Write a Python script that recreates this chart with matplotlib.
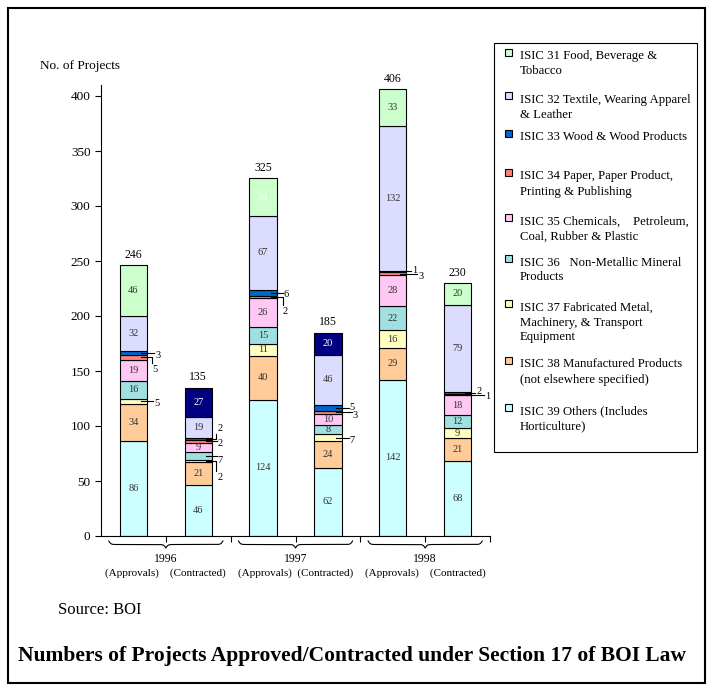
import numpy as np
import matplotlib.pyplot as plt
from matplotlib.patches import Rectangle
from matplotlib.lines import Line2D
from matplotlib.transforms import blended_transform_factory

plt.rcParams['font.family'] = ['Liberation Serif', 'DejaVu Serif']

W, H = 713, 690

# Bars: approvals / contracted for each year
years = ['1996', '1997', '1998']
bar_kind = ['(Approvals)', '(Contracted)']

# Number of projects per ISIC sector, one value per bar
isic39 = [86, 46, 124, 62, 142, 68]
isic38 = [34, 21, 40, 24, 29, 21]
isic37 = [5, 2, 11, 7, 16, 9]
isic36 = [16, 7, 15, 8, 22, 12]
isic35 = [19, 9, 26, 10, 28, 18]
isic34 = [5, 2, 2, 3, 3, 1]
isic33 = [3, 2, 6, 5, 1, 2]
isic32 = [32, 19, 67, 46, 132, 79]
isic31 = [46, 27, 34, 20, 33, 20]

sector_names = [
    'ISIC 31 Food, Beverage &\nTobacco',
    'ISIC 32 Textile, Wearing Apparel\n& Leather',
    'ISIC 33 Wood & Wood Products',
    'ISIC 34 Paper, Paper Product,\nPrinting & Publishing',
    'ISIC 35 Chemicals,    Petroleum,\nCoal, Rubber & Plastic',
    'ISIC 36   Non-Metallic Mineral\nProducts',
    'ISIC 37 Fabricated Metal,\nMachinery, & Transport\nEquipment',
    'ISIC 38 Manufactured Products\n(not elsewhere specified)',
    'ISIC 39 Others (Includes\nHorticulture)',
]

# stacking order, bottom -> top
stack = [isic39, isic38, isic37, isic36, isic35, isic34, isic33, isic32, isic31]
stack_colors = ['#CCFFFF', '#FFCC99', '#FFFFC0', '#A0E0E0', '#FFC8F4',
                '#FF7F7F', '#0066CC', '#DCDCFF', '#CCFFCC']
legend_colors = stack_colors[::-1]

# contracted bars of 1996/1997 have the top block filled navy
top_override = {1: '#000080', 3: '#000080'}
white_text = {(1, 8), (3, 8), (2, 8)}

# small blocks labelled outside the bar: (bar, level) -> (text dx, text dy, elbow dx)
outside = {
    (0, 6): (8, 3, None), (0, 5): (5, 12, 5), (0, 2): (7, 2, None),
    (1, 6): (6, -11, 4), (1, 5): (6, 2, None), (1, 3): (6, 4, None), (1, 2): (6, 16, 4),
    (2, 6): (7, 2, None), (2, 5): (6, 14, 6),
    (3, 6): (8, 0, None), (3, 5): (11, 3, None), (3, 2): (8, 3, None),
    (4, 6): (6, -1, None), (4, 5): (12, 3, None),
    (5, 6): (5, -2, None), (5, 5): (14, 2, None),
}

fig = plt.figure(figsize=(W / 100, H / 100), dpi=100)
ax = fig.add_axes([101 / W, 1 - 536 / H, 389 / W, 451 / H])

x = np.arange(6)
width = 0.42
bottom = np.zeros(6)
for level, (vals, col) in enumerate(zip(stack, stack_colors)):
    vals = np.array(vals)
    cols = [top_override.get(i, col) if level == 8 else col for i in range(6)]
    ax.bar(x, vals, width, bottom=bottom, color=cols, edgecolor='black', linewidth=0.8)
    bottom += vals

ax.set_xlim(-0.5, 5.5)
ax.set_ylim(0, 410)
ax.set_yticks(np.arange(0, 401, 50))
ax.set_xticks([])
ax.set_xticks(np.arange(0.5, 5.6, 1), minor=True)
ax.tick_params(axis='x', which='minor', direction='out', length=4, width=0.8)
ax.tick_params(axis='y', direction='out', length=4, width=0.8, labelsize=9.5)
for s in ['top', 'right']:
    ax.spines[s].set_visible(False)
for s in ['left', 'bottom']:
    ax.spines[s].set_linewidth(0.8)

fig.canvas.draw()


def to_px(xd, yd):
    dx, dy = ax.transData.transform((xd, yd))
    return dx, H - dy


def fig_line(xs, ys, lw=0.8):
    fig.add_artist(Line2D(np.array(xs) / W, 1 - np.array(ys) / H, color='black',
                          lw=lw, transform=fig.transFigure))


def fig_text(px, py, s, **kw):
    fig.text(px / W, 1 - py / H, s, **kw)


# segment labels
bottom = np.zeros(6)
for level, vals in enumerate(stack):
    for i in range(6):
        v = vals[i]
        yc = bottom[i] + v / 2
        if (i, level) in outside:
            tdx, tdy, ex = outside[(i, level)]
            edge, ypx = to_px(i + width / 2, yc)
            fig_text(edge + tdx, ypx + tdy, str(v), fontsize=7.5, ha='left', va='center')
            if ex is None:
                fig_line([edge - 6, edge + tdx - 1], [ypx, ypx])
            else:
                ty = ypx + tdy - np.sign(tdy) * 6
                fig_line([edge - 6, edge + ex, edge + ex], [ypx, ypx, ty])
        else:
            c = 'white' if (i, level) in white_text else '#333333'
            ax.text(i, yc, str(v), ha='center', va='center', fontsize=7.5, color=c)
    bottom += np.array(vals)

totals = bottom
for i, t in enumerate(totals):
    ax.annotate(f'{int(t)}', (i, t), xytext=(0, 3), textcoords='offset points',
                ha='center', va='bottom', fontsize=8.5)

# curly braces under each year
tr = blended_transform_factory(ax.transData, ax.transAxes)
beta = 60.0
for g in range(3):
    xc = 2 * g + 0.5
    xs = np.linspace(xc - 0.88, xc + 0.88, 301)
    xh = xs[:151]
    yh = 1 / (1 + np.exp(-beta * (xh - xh[0]))) + 1 / (1 + np.exp(-beta * (xh - xh[-1])))
    yb = np.concatenate((yh, yh[-2::-1]))
    ypix = 541 + (yb - 0.5) * 7
    ax.plot(xs, -(ypix - 536) / 451, color='black', lw=0.8, transform=tr, clip_on=False)

group_sub = ['(Approvals)    (Contracted)', '(Approvals)  (Contracted)', '(Approvals)    (Contracted)']
for g in range(3):
    gx, _ = to_px(2 * g + 0.5, 0)
    fig_text(gx, 559, years[g], ha='center', va='center', fontsize=8.5)
    fig_text(gx, 573, group_sub[g], ha='center', va='center', fontsize=8)

fig_text(40, 66, 'No. of Projects', ha='left', va='center', fontsize=9.5)

# legend box drawn by hand
fig.add_artist(Rectangle((494 / W, 1 - 452 / H), 203 / W, 409 / H, fill=False,
                         edgecolor='black', lw=0.8, transform=fig.transFigure))
marker_y = [52, 95, 133, 172, 217, 258, 303, 360, 407]
for name, col, my in zip(sector_names, legend_colors, marker_y):
    fig.add_artist(Rectangle(((508 - 3.5) / W, 1 - (my + 3.5) / H), 7 / W, 7 / H,
                             facecolor=col, edgecolor='black', lw=0.8,
                             transform=fig.transFigure))
    for k, line in enumerate(name.split('\n')):
        fig_text(520, my + 4.5 + 15 * k, line, ha='left', va='center', fontsize=9.2)

fig_text(58, 610, 'Source: BOI', ha='left', va='center', fontsize=12)
fig_text(352, 656, 'Numbers of Projects Approved/Contracted under Section 17 of BOI Law',
         ha='center', va='center', fontsize=15.5, fontweight='bold')

# outer frame
fig.add_artist(Rectangle((8 / W, 1 - 683 / H), 697 / W, 675 / H, fill=False,
                         edgecolor='black', lw=1.5, transform=fig.transFigure))

fig.savefig('out.png', dpi=100)
